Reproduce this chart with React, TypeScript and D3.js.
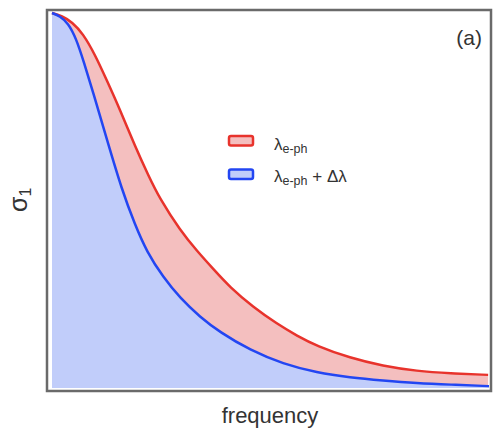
import React from "react";
import * as d3 from "d3";

// frequency in arbitrary units (0–10), sigma_1 normalised to 1 at zero frequency
const blueFreq = [0, 0.18, 0.37, 0.55, 0.73, 0.94, 1.26, 1.6, 1.9, 2.17, 2.54, 2.93, 3.39, 3.84, 4.53, 5.29, 6.06, 6.82, 7.57, 8.35, 9.11, 10];
const blueSigma = [1.0, 0.992, 0.973, 0.933, 0.869, 0.789, 0.661, 0.528, 0.435, 0.363, 0.296, 0.24, 0.189, 0.149, 0.101, 0.064, 0.041, 0.028, 0.02, 0.013, 0.009, 0.005];
const redFreq = [0, 0.23, 0.46, 0.71, 0.98, 1.26, 1.56, 1.9, 2.2, 2.47, 2.93, 3.32, 3.71, 4.07, 4.6, 5.15, 5.61, 6.06, 6.82, 7.57, 8.35, 9.11, 9.98];
const redSigma = [1.0, 0.992, 0.976, 0.945, 0.89, 0.819, 0.741, 0.645, 0.568, 0.504, 0.421, 0.365, 0.315, 0.269, 0.216, 0.171, 0.139, 0.112, 0.08, 0.059, 0.045, 0.039, 0.035];

const legendLabels = ["λ", "e-ph"];

const W = 493;
const H = 431;
const FONT = "'Liberation Sans', Arial, Helvetica, sans-serif";

export default function App() {
  const x = d3.scaleLinear().domain([0, 10]).range([52, 489]);
  const y = d3.scaleLinear().domain([0, 1]).range([388, 13]);

  const blue = blueFreq.map((f, i) => [f, blueSigma[i]] as [number, number]);
  const red = redFreq.map((f, i) => [f, redSigma[i]] as [number, number]);

  const area = d3
    .area<[number, number]>()
    .x((d) => x(d[0]))
    .y0(y(0))
    .y1((d) => y(d[1]))
    .curve(d3.curveBasis);
  const line = d3
    .line<[number, number]>()
    .x((d) => x(d[0]))
    .y((d) => y(d[1]))
    .curve(d3.curveBasis);

  const red1 = "#e8332c";
  const blue1 = "#2346f2";
  const redFill = "#f4bfbf";
  const blueFill = "#c1cdfa";
  const txt = "#333";

  return (
    <svg
      width={W}
      height={H}
      style={{ position: "absolute", left: 0, top: 0, background: "#fff" }}
      fontFamily={FONT}
    >
      <rect x={47} y={10} width={444} height={381} fill="#fff" />
      <path d={area(red) || ""} fill={redFill} />
      <path d={area(blue) || ""} fill={blueFill} />
      <path d={line(red) || ""} fill="none" stroke={red1} strokeWidth={2.5} />
      <path d={line(blue) || ""} fill="none" stroke={blue1} strokeWidth={2.5} />
      <rect x={47} y={10} width={444} height={381} fill="none" stroke="#6a6a6a" strokeWidth={2.5} />

      {/* legend */}
      <rect x={229} y={136} width={24} height={9.5} rx={2} fill={redFill} stroke={red1} strokeWidth={2.5} />
      <rect x={229} y={169.5} width={24} height={9.5} rx={2} fill={blueFill} stroke={blue1} strokeWidth={2.5} />
      <text x={274} y={150} fontSize={17} fill={txt}>
        {legendLabels[0]}
        <tspan fontSize={12.5} dy={3}>{legendLabels[1]}</tspan>
      </text>
      <text x={274} y={182} fontSize={17} fill={txt}>
        {legendLabels[0]}
        <tspan fontSize={12.5} dy={3}>{legendLabels[1]}</tspan>
        <tspan dy={-3} fontSize={17}> + Δλ</tspan>
      </text>

      <text x={482} y={45} fontSize={21} fill={txt} textAnchor="end">
        (a)
      </text>

      <text x={270} y={423} fontSize={22} fill={txt} textAnchor="middle">
        frequency
      </text>

      <g transform="translate(27,212) rotate(-90)">
        <text x={0} y={0} fontSize={25} fill={txt}>
          σ<tspan fontSize={16} dy={4}>1</tspan>
        </text>
      </g>
    </svg>
  );
}
